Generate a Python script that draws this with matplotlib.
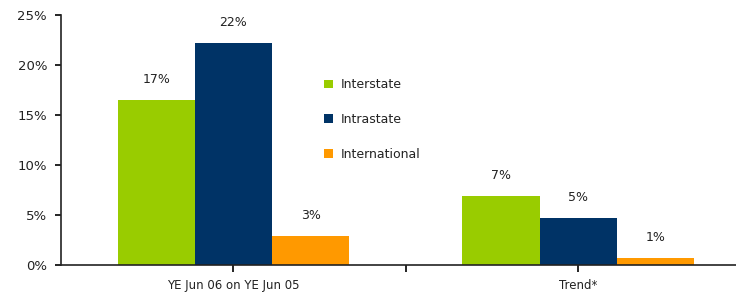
import matplotlib
matplotlib.use("Agg")
import matplotlib.pyplot as plt
import numpy as np

categories = ["YE Jun 06 on YE Jun 05", "Trend*"]
series_names = ["Interstate", "Intrastate", "International"]
interstate = [16.5, 6.9]
intrastate = [22.2, 4.7]
international = [2.9, 0.7]
value_labels = [["17%", "7%"], ["22%", "5%"], ["3%", "1%"]]
ytick_labels = ["0%", "5%", "10%", "15%", "20%", "25%"]

colors = ["#99CC00", "#003366", "#FF9900"]
plt.rcParams['font.family'] = ['Verdana', 'DejaVu Sans']

fig = plt.figure(figsize=(7.36, 2.94), dpi=100)
ax = fig.add_axes([61/736, (294-265)/294, 1 - 61/736, 250/294])

x = np.arange(len(categories))
w = 0.224
data = [interstate, intrastate, international]
for i, (vals, name, c) in enumerate(zip(data, series_names, colors)):
    xs = x + (i - 1) * w
    ax.bar(xs, vals, width=w, color=c, label=name)
    for xi, v, lab in zip(xs, vals, value_labels[i]):
        ax.annotate(lab, (xi, v), xytext=(0, 10), textcoords="offset points",
                    ha="center", va="bottom", fontsize=9, color="#222222")

ax.set_ylim(0, 25)
ax.set_yticks(range(0, 26, 5))
ax.set_yticklabels(ytick_labels, fontsize=9.5, color="#222222")
ax.set_xlim(-0.5, 1.457)
ax.set_xticks([0, 0.5, 1])
ax.set_xticklabels([categories[0], "", categories[1]], fontsize=8.5, color="#222222")
ax.tick_params(axis='y', direction='out', length=4, width=1.2, pad=6)
ax.tick_params(axis='x', direction='out', length=5, width=1.2, pad=5)
for s in ["top", "right"]:
    ax.spines[s].set_visible(False)
for s in ["left", "bottom"]:
    ax.spines[s].set_linewidth(1.2)
    ax.spines[s].set_color("#222222")

leg = ax.legend(loc="upper left", bbox_to_anchor=(318/736, 1 - 72/294),
                bbox_transform=fig.transFigure, frameon=False, fontsize=9,
                handlelength=0.7, handleheight=0.7, handletextpad=0.6,
                labelspacing=1.75, borderpad=0)
for t in leg.get_texts():
    t.set_color("#222222")

fig.savefig("out.png", dpi=100)
